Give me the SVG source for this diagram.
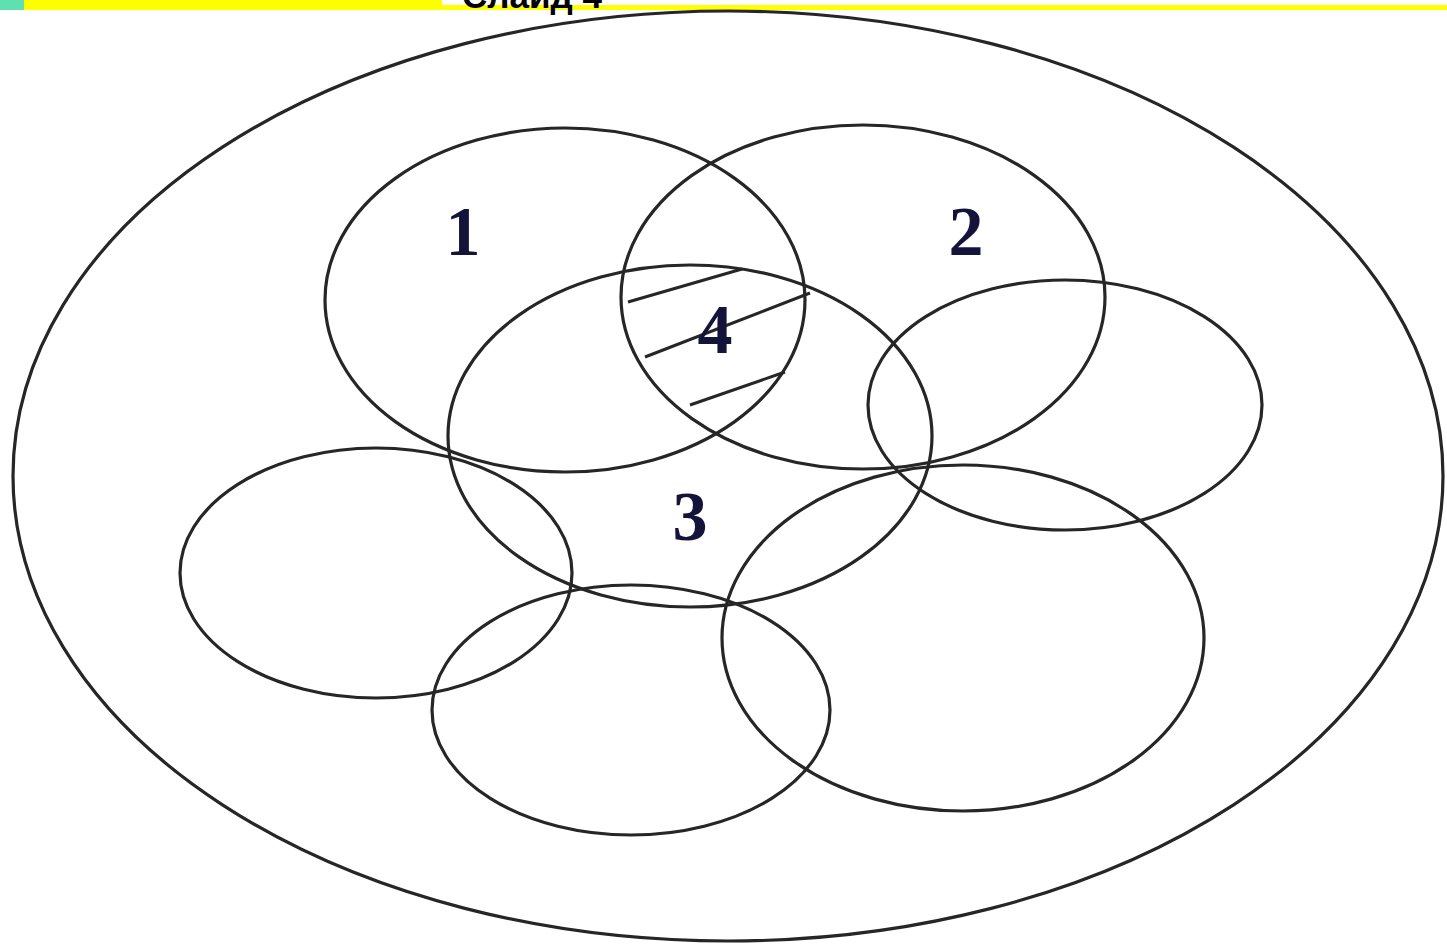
<svg xmlns="http://www.w3.org/2000/svg" width="1447" height="948" viewBox="0 0 1447 948">
<style>
.e{fill:none;stroke:#262626;stroke-width:3.2}
.h{stroke:#262626;stroke-width:3}
.n{font-family:"Liberation Serif",serif;font-weight:bold;font-size:70px;fill:#14143a;text-anchor:middle}
</style>
<rect x="0" y="0" width="1447" height="948" fill="#fff"/>
<g id="header">
<rect x="0" y="0" width="24" height="10" fill="#5ee0b0"/>
<rect x="24" y="0" width="418" height="10" fill="#ffff00"/>
<rect x="442" y="5" width="1005" height="5" fill="#ffff00"/>
<text x="532" y="8" font-family="Liberation Sans,Arial,sans-serif" font-weight="bold" font-size="35" text-anchor="middle" fill="#000">Слайд 4</text>
</g>
<g id="outer"><ellipse class="e" cx="728" cy="476" rx="715" ry="465"/></g>
<g id="set1"><ellipse class="e" cx="565" cy="300" rx="240" ry="172"/></g>
<g id="set2"><ellipse class="e" cx="863" cy="297" rx="242" ry="172"/></g>
<g id="set3"><ellipse class="e" cx="690" cy="436" rx="242" ry="171"/></g>
<g id="setR"><ellipse class="e" cx="1065" cy="405" rx="197" ry="125"/></g>
<g id="setL"><ellipse class="e" cx="376" cy="573" rx="196" ry="125"/></g>
<g id="setB"><ellipse class="e" cx="631" cy="710" rx="199" ry="125"/></g>
<g id="setBR"><ellipse class="e" cx="963" cy="638" rx="241" ry="173"/></g>
<g id="hatch">
<line class="h" x1="628" y1="302" x2="742" y2="269"/>
<line class="h" x1="645" y1="357" x2="810" y2="293"/>
<line class="h" x1="690" y1="405" x2="785" y2="372"/>
</g>
<g id="labels">
<text class="n" x="463" y="255">1</text>
<text class="n" x="966" y="255">2</text>
<text class="n" x="690" y="540">3</text>
<text class="n" x="715" y="353">4</text>
</g>
</svg>
